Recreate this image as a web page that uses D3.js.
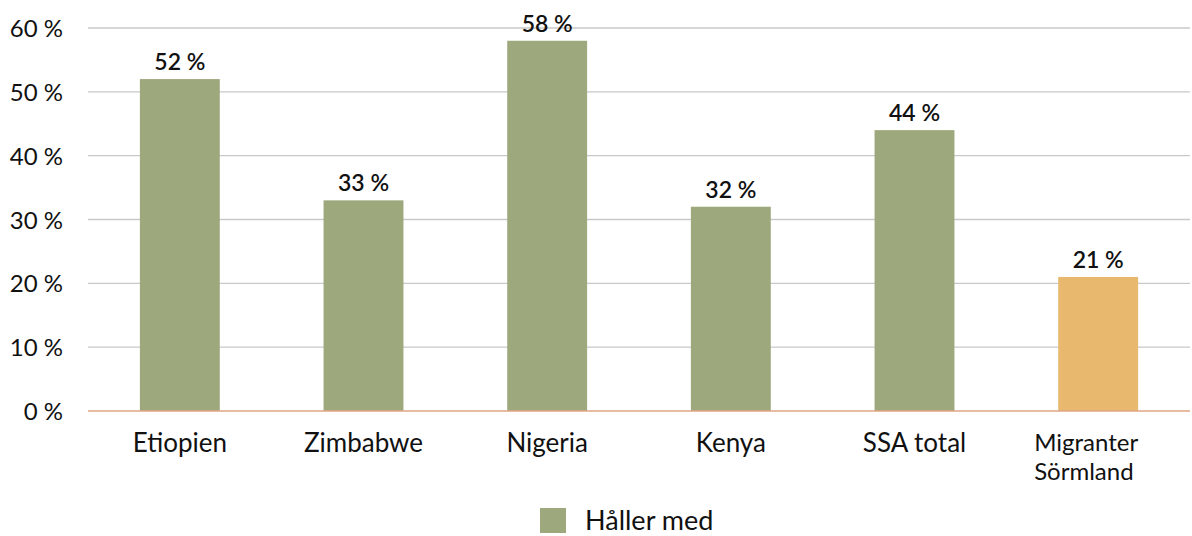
<!DOCTYPE html>
<html><head><meta charset="utf-8">
<script src="https://cdn.jsdelivr.net/npm/d3@7"></script>
<style>
body{margin:0;background:#fff;}
text{font-family:Lato,"Open Sans",sans-serif;fill:#111;}
</style></head>
<body><svg id="c" width="1192" height="536"></svg>
<script>
const categories = ["Etiopien","Zimbabwe","Nigeria","Kenya","SSA total","Migranter\nSörmland"];
const values = [52,33,58,32,44,21];
const barColors = ["#9EA87D","#9EA87D","#9EA87D","#9EA87D","#9EA87D","#E8B86F"];
const yTicks = [0,10,20,30,40,50,60];
const seriesName = "Håller med";

const svg = d3.select("#c");
const x = d3.scaleBand().domain(categories).range([88,1190]).paddingInner(0.565).paddingOuter(0.2825);
const y = d3.scaleLinear().domain([0,60]).range([411,28]);

// gridlines
svg.append("g").selectAll("line").data(yTicks.filter(d=>d>0)).join("line")
  .attr("x1",88).attr("x2",1190).attr("y1",d=>y(d)).attr("y2",d=>y(d))
  .attr("stroke","#c9c9c9").attr("stroke-width",1.3);

// y axis labels
const yAxis = d3.axisLeft(y).tickValues(yTicks).tickFormat(d=>d+" %").tickSize(0).tickPadding(0);
const ga = svg.append("g").attr("transform","translate(63,0)").call(yAxis);
ga.select(".domain").remove();
ga.selectAll("text").style("font-size","24px").style("font-family","Lato, sans-serif").attr("fill","#111").attr("dy","0.36em");

// bars
svg.append("g").selectAll("rect").data(values).join("rect")
  .attr("x",(d,i)=>x(categories[i])).attr("width",x.bandwidth())
  .attr("y",d=>y(d)).attr("height",d=>y(0)-y(d))
  .attr("fill",(d,i)=>barColors[i]);

// baseline
svg.append("line").attr("x1",88).attr("x2",1190).attr("y1",y(0)).attr("y2",y(0))
  .attr("stroke","#E2A585").attr("stroke-width",1.5);

// value labels
svg.append("g").selectAll("text").data(values).join("text")
  .attr("x",(d,i)=>x(categories[i])+x.bandwidth()/2).attr("y",d=>y(d)-9)
  .attr("text-anchor","middle").style("font-size","23px").style("font-weight","600")
  .text(d=>d+" %");

// category labels
const cl = svg.append("g");
categories.forEach((c,i)=>{
  const lines = c.split("\n");
  const cx = x(c)+x.bandwidth()/2;
  if(lines.length===1){
    cl.append("text").attr("x",cx).attr("y",452).attr("text-anchor","middle").style("font-size","26px").text(c);
  } else {
    const ts = lines.map((l,j)=>cl.append("text").attr("x",0).attr("y",451+j*29).style("font-size","24px").text(l));
    const w = d3.max(ts, t=>t.node().getComputedTextLength());
    ts.forEach(t=>t.attr("x",cx-w/2-12));
  }
});

// legend
const lg = svg.append("g");
lg.append("rect").attr("x",540).attr("y",508).attr("width",26).attr("height",25).attr("fill",barColors[0]);
lg.append("text").attr("x",585).attr("y",530).style("font-size","27px").text(seriesName);
</script></body></html>
